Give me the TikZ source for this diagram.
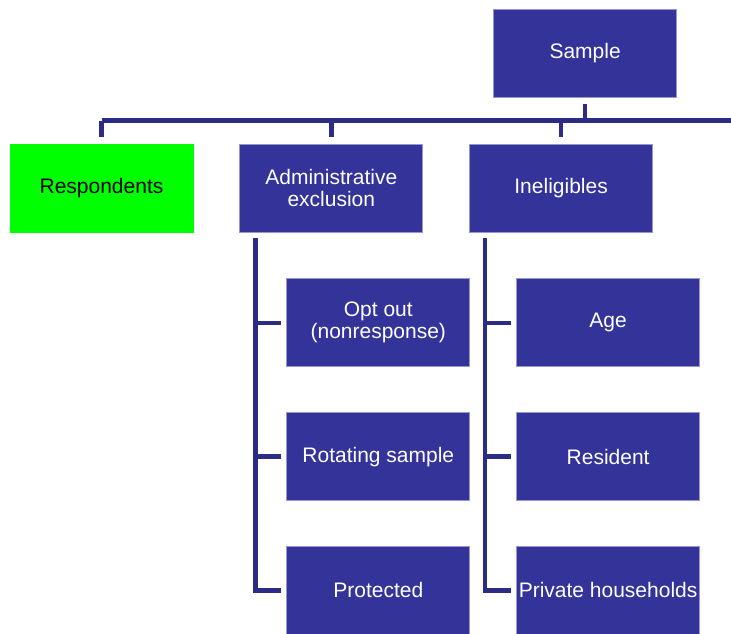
\documentclass[tikz,border=0pt]{standalone}
\usepackage{fontspec}
\setmainfont{Liberation Sans}
\usetikzlibrary{positioning}

\definecolor{boxfill}{RGB}{51,51,153}
\definecolor{boxedge}{RGB}{150,150,210}
\definecolor{linkcol}{RGB}{44,44,134}
\definecolor{greenfill}{RGB}{0,255,0}

\begin{document}
\begin{tikzpicture}[
  boxstyle/.style={
        rectangle,
        draw=boxedge,
        line width=0.8pt,
        fill=boxfill,
        text=white,
        minimum width=183pt,
        minimum height=88pt,
        inner sep=1pt,
        align=center,
        font=\fontsize{21}{22}\selectfont
  },
  link/.style={
        draw=linkcol,
        line width=4.5pt
  }
]

    \useasboundingbox (0,0) rectangle (731pt,-633pt);
    \coordinate (barend) at (731pt,-120.5pt);

    \node[boxstyle, fill=greenfill, draw=greenfill, text=black] (resp) at (101.5pt,-188pt) {Respondents};
    \node[boxstyle, right=46pt of resp] (admin) {Administrative\\exclusion};
    \node[boxstyle, right=46pt of admin] (inelig) {Ineligibles};
    \node[boxstyle, above=46pt of inelig, xshift=24pt] (samp) {Sample};

    \node[boxstyle, below=46pt of admin, xshift=47pt] (optout) {Opt out\\(nonresponse)};
    \node[boxstyle, below=45pt of optout] (rotating) {Rotating sample};
    \node[boxstyle, below=45pt of rotating] (protected) {Protected};

    \node[boxstyle, below=46pt of inelig, xshift=47pt] (age) {Age};
    \node[boxstyle, below=45pt of age] (resident) {Resident};
    \node[boxstyle, below=45pt of resident] (private) {Private households};

    \coordinate (admtrunk) at ([xshift=16pt, yshift=-6pt]admin.south west);
    \coordinate (inltrunk) at ([xshift=16pt, yshift=-6pt]inelig.south west);

    \draw[link] ([yshift=-6pt]samp.south) -- (samp.south |- barend);
    \draw[link] (resp.north |- barend) -- (barend);
    \draw[link] (resp.north |- barend) -- ([yshift=7pt]resp.north);
    \draw[link] (admin.north |- barend) -- ([yshift=7pt]admin.north);
    \draw[link] (inelig.north |- barend) -- ([yshift=7pt]inelig.north);

    \draw[link] (admtrunk) |- ([xshift=-5pt]protected.west);
    \draw[link] (admtrunk |- optout) -- ([xshift=-5pt]optout.west);
    \draw[link] (admtrunk |- rotating) -- ([xshift=-5pt]rotating.west);

    \draw[link] (inltrunk) |- ([xshift=-5pt]private.west);
    \draw[link] (inltrunk |- age) -- ([xshift=-5pt]age.west);
    \draw[link] (inltrunk |- resident) -- ([xshift=-5pt]resident.west);
\end{tikzpicture}
\end{document}
